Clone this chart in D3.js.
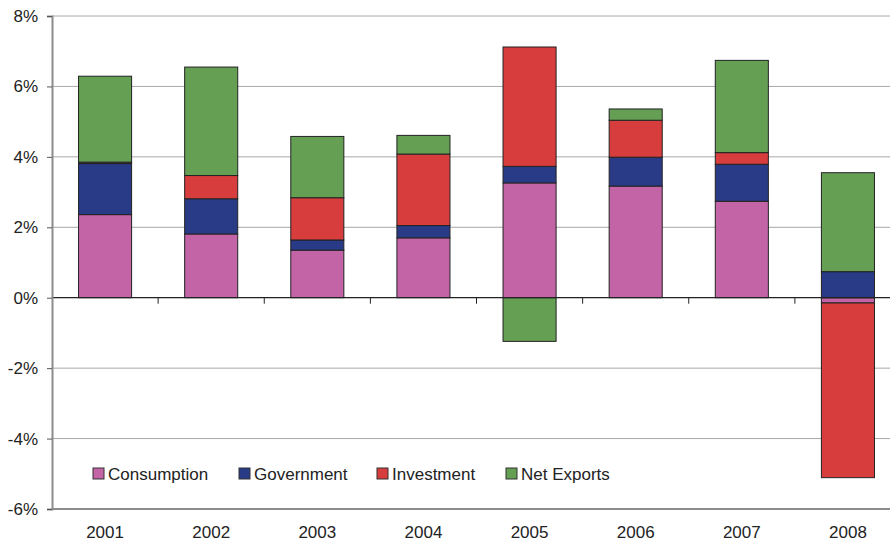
<!DOCTYPE html>
<html>
<head>
<meta charset="utf-8">
<script src="https://cdn.jsdelivr.net/npm/d3@7"></script>
<style>
  body { margin: 0; background: #fff; }
  svg { display: block; font-family: "Liberation Sans", Arial, sans-serif; }
</style>
</head>
<body>
<svg id="chart" width="890" height="542"></svg>
<script>
const years = ["2001","2002","2003","2004","2005","2006","2007","2008"];
const consumption = [2.36, 1.81, 1.35, 1.70, 3.26, 3.17, 2.74, -0.15];
const government  = [1.45, 1.00, 0.29, 0.35, 0.47, 0.82, 1.05, 0.74];
const investment  = [0.04, 0.66, 1.20, 2.03, 3.39, 1.05, 0.33, -4.96];
const netExports  = [2.44, 3.08, 1.74, 0.53, -1.24, 0.32, 2.62, 2.81];
const seriesNames = ["Consumption", "Government", "Investment", "Net Exports"];
const seriesColors = ["#C364A7", "#293B87", "#D73D3D", "#659F54"];
const yTicks = [-6, -4, -2, 0, 2, 4, 6, 8];

(function () {
const svg = d3.select("#chart");
const mLeft = 52, mRight = 901, mTop = 16, mBottom = 509;

const rows = years.map((yr, i) => ({
  year: yr,
  Consumption: consumption[i],
  Government: government[i],
  Investment: investment[i],
  "Net Exports": netExports[i]
}));

const x = d3.scaleBand().domain(years).range([mLeft, mRight])
  .paddingInner(0.5).paddingOuter(0.25);
const y = d3.scaleLinear().domain([-6, 8]).range([mBottom, mTop]);
const color = d3.scaleOrdinal().domain(seriesNames).range(seriesColors);

// gridlines
svg.append("g").selectAll("line").data(yTicks.filter(d => d !== 0 && d !== -6))
  .join("line")
  .attr("x1", mLeft).attr("x2", 890)
  .attr("y1", d => y(d)).attr("y2", d => y(d))
  .attr("stroke", "#a8a8a8").attr("stroke-width", 1);

// bottom border line
svg.append("line").attr("x1", mLeft).attr("x2", 890)
  .attr("y1", y(-6)).attr("y2", y(-6))
  .attr("stroke", "#8c8c8c").attr("stroke-width", 2);

// stacked bars
const stack = d3.stack().keys(seriesNames).offset(d3.stackOffsetDiverging);
const stacked = stack(rows);
svg.append("g").selectAll("g").data(stacked).join("g")
  .attr("fill", d => color(d.key))
  .selectAll("rect").data(d => d).join("rect")
  .attr("x", d => x(d.data.year))
  .attr("width", x.bandwidth())
  .attr("y", d => y(Math.max(d[0], d[1])))
  .attr("height", d => Math.abs(y(d[0]) - y(d[1])))
  .attr("stroke", "#222").attr("stroke-width", 1);

// zero line with category ticks
const step = x.step();
const boundaries = d3.range(years.length + 1).map(i => mLeft + i * step);
svg.append("line").attr("x1", mLeft).attr("x2", 890)
  .attr("y1", y(0)).attr("y2", y(0))
  .attr("stroke", "#222").attr("stroke-width", 1.2);
svg.append("g").selectAll("line").data(boundaries.slice(1))
  .join("line")
  .attr("x1", d => d).attr("x2", d => d)
  .attr("y1", y(0)).attr("y2", y(0) + 6)
  .attr("stroke", "#222").attr("stroke-width", 1);

// y axis
const yAxis = d3.axisLeft(y).tickValues(yTicks).tickFormat(d => d + "%")
  .tickSize(5).tickPadding(9);
const gy = svg.append("g").attr("transform", `translate(${mLeft},0)`).call(yAxis);
gy.select(".domain").attr("stroke", "#8c8c8c").attr("stroke-width", 2);
gy.selectAll(".tick line").attr("stroke", "#555");
gy.selectAll(".tick text").attr("font-size", 17).attr("fill", "#222")
  .style("font-family", "'Liberation Sans', Arial, sans-serif");

// x labels
svg.append("g").selectAll("text").data(years).join("text")
  .attr("x", d => x(d) + x.bandwidth() / 2)
  .attr("y", 538)
  .attr("text-anchor", "middle")
  .attr("font-size", 17).attr("fill", "#222")
  .text(d => d);

// legend
const legendX = [93, 239, 377, 506];
const lg = svg.append("g").selectAll("g").data(seriesNames).join("g")
  .attr("transform", (d, i) => `translate(${legendX[i]},468)`);
lg.append("rect").attr("width", 11).attr("height", 11)
  .attr("fill", d => color(d)).attr("stroke", "#333").attr("stroke-width", 1);
lg.append("text").attr("x", 15).attr("y", 12)
  .attr("font-size", 17).attr("fill", "#222").text(d => d);
})();
</script>
</body>
</html>
